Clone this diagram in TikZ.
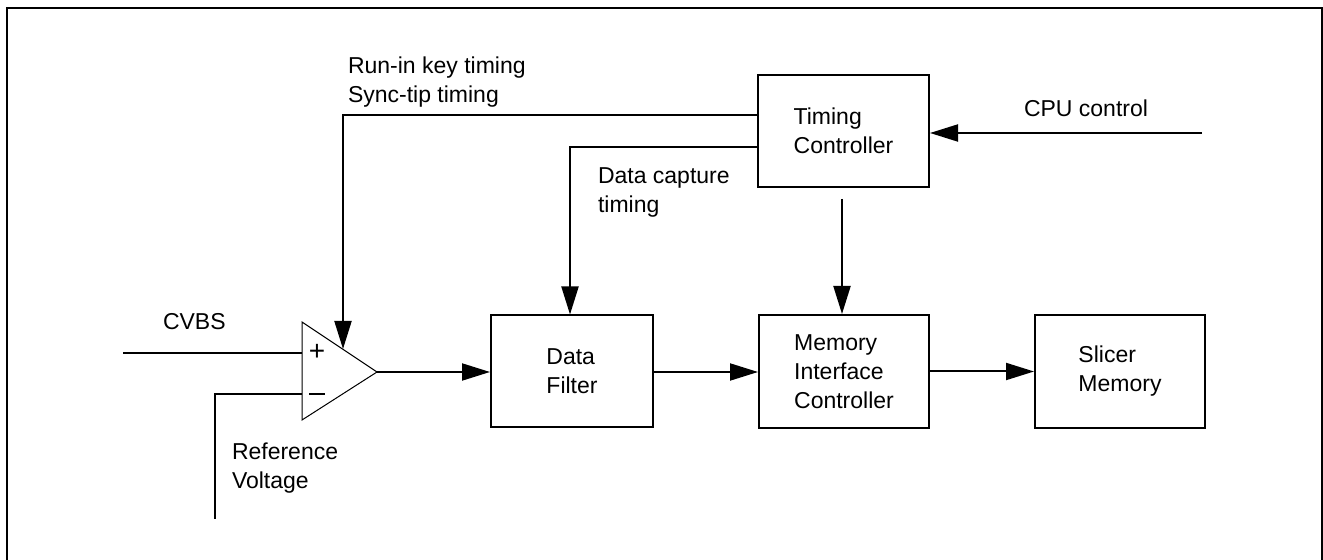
\documentclass[tikz,border=0pt]{standalone}
\usepackage{fontspec}
\setmainfont{Liberation Sans}
\usetikzlibrary{arrows.meta, positioning, calc}

\begin{document}
\begin{tikzpicture}[x=0.5pt, y=-0.5pt, line width=1pt,
  blk/.style={draw, line width=1pt, minimum width=85pt, minimum height=56.5pt,
              align=left, font=\fontsize{11.5}{14.5}\selectfont},
  lbl/.style={inner sep=0pt, anchor=west, align=left, font=\fontsize{11.5}{14.5}\selectfont},
  arr/.style={-{Triangle[length=14pt, width=8.5pt]}}]
  \useasboundingbox (0,0) rectangle (1323,560);
  % Frame
  \draw (7,560) -- (7,8) -- (1322,8) -- (1322,560);
  % Blocks
  \node[blk, minimum width=81pt, minimum height=56pt] (df) at (572,371.5) {Data\\Filter};
  \node[blk] (mic) at (844,371.5) {Memory\\Interface\\Controller};
  \node[blk] (sm) at (1120,371.5) {Slicer\\Memory};
  \node[blk, minimum width=85.5pt, minimum height=56pt] (tc) at (843.5,131) {Timing\\Controller};
  % Comparator
  \coordinate (cmpa) at (302,322);
  \coordinate (cmpb) at (302,420);
  \coordinate (cmpout) at (377,372);
  \coordinate (cmpplus) at (302,353);
  \coordinate (cmpminus) at (302,394);
  \coordinate (cmptop) at (343,349);
  \draw[line width=0.5pt] (cmpa) -- (cmpout) -- (cmpb) -- cycle;
  \node[inner sep=0pt, font=\fontsize{14}{14}\selectfont] (plus) at (317,352) {+};
  \draw[line width=0.6pt] (309,394) -- (325,394);
  % Inputs
  \coordinate (cvbs) at (123,353);
  \coordinate (vref) at (215,519);
  \coordinate (cpu) at (1202,133);
  \draw (cvbs) -- (cmpplus);
  \draw (vref) |- (cmpminus);
  \draw[arr] (cpu) -- (cpu -| tc.east);
  % Labels
  \node[lbl] (lcvbs) at (162,322) {CVBS};
  \node[lbl] (lref) at (231,468) {Reference\\Voltage};
  \node[lbl] (lrun) at (347,82.5) {Run-in key timing\\Sync-tip timing};
  \node[lbl] (lcap) at (597,192.5) {Data capture\\timing};
  \node[lbl] (lcpu) at (1023,108) {CPU control};
  % Data path
  \draw[arr] (cmpout) -- (cmpout -| df.west);
  \draw[arr] (df.east |- cmpout) -- (mic.west |- cmpout);
  \draw[arr] (mic.east) -- (sm.west);
  % Timing
  \draw[arr] (tc.west |- 0,115) -| (cmptop);
  \draw[arr] (tc.west |- 0,147) -| (570,0 |- df.north);
  \draw[arr, shorten <=5.5pt] (842,0 |- tc.south) -- (842,0 |- mic.north);
\end{tikzpicture}
\end{document}
